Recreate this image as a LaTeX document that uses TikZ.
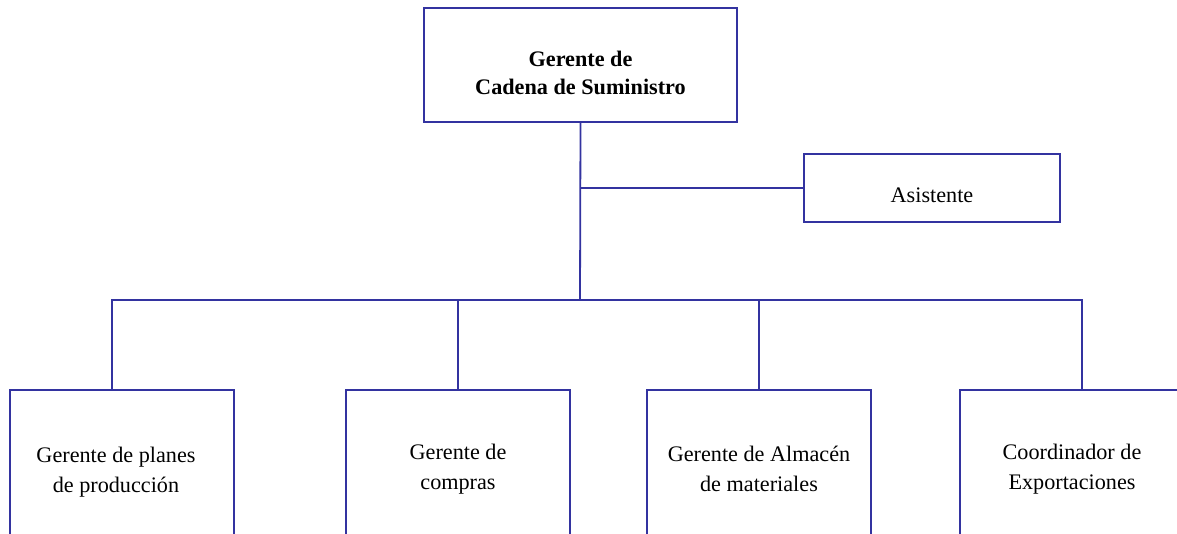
\documentclass[tikz,border=0pt]{standalone}
\usepackage{fontspec}
\setmainfont{Liberation Serif}
\definecolor{orgblue}{RGB}{51,51,160}
\begin{document}
\begin{tikzpicture}[x=1pt, y=-1pt, font=\fontsize{22.2}{30}\selectfont,
  box/.style={draw=orgblue, line width=1.8pt, inner sep=0pt},
  lbl/.style={align=center, inner sep=0pt},
  link/.style={draw=orgblue, line width=1.8pt}]
\useasboundingbox(0,0)rectangle(1177,533);
\clip(0,0)rectangle(1177,533);
\node[box, minimum width=313pt, minimum height=114pt,
  label={[lbl, yshift=-8pt, font=\fontsize{22.2}{28}\selectfont\bfseries]center:Gerente de\\Cadena de Suministro}] (jefe) at (580.5,65) {};
\node[box, minimum width=256pt, minimum height=68pt,
  label={[lbl, yshift=-7pt]center:Asistente}] (asis) at (932,188) {};
\foreach \x/\n/\dx/\dy/\t in {122/plan/-6/-5/{Gerente de planes\\de producción}, 458/comp/0/-2/{Gerente de\\compras}, 759/alm/0/-2/{Gerente de Almacén\\de materiales}, 1072/coord/0/-2/{Coordinador de\\Exportaciones}}
\node[box, minimum width=224pt, minimum height=154pt,
  label={[lbl, xshift=\dx pt, yshift=\dy pt]center:\t}] (\n) at (\x,467) {};
\coordinate (bus) at (580,300);
\draw[link] (jefe.south) -- (bus);
\draw[link] (jefe.south |- asis.west) -- (asis.west);
\draw[link] ([xshift=-10pt]plan.north) |- ([xshift=10pt]coord.north |- bus) -- ([xshift=10pt]coord.north);
\foreach \n in {comp,alm}
\draw[link] (\n.north) -- (\n.north |- bus);
\end{tikzpicture}
\end{document}
